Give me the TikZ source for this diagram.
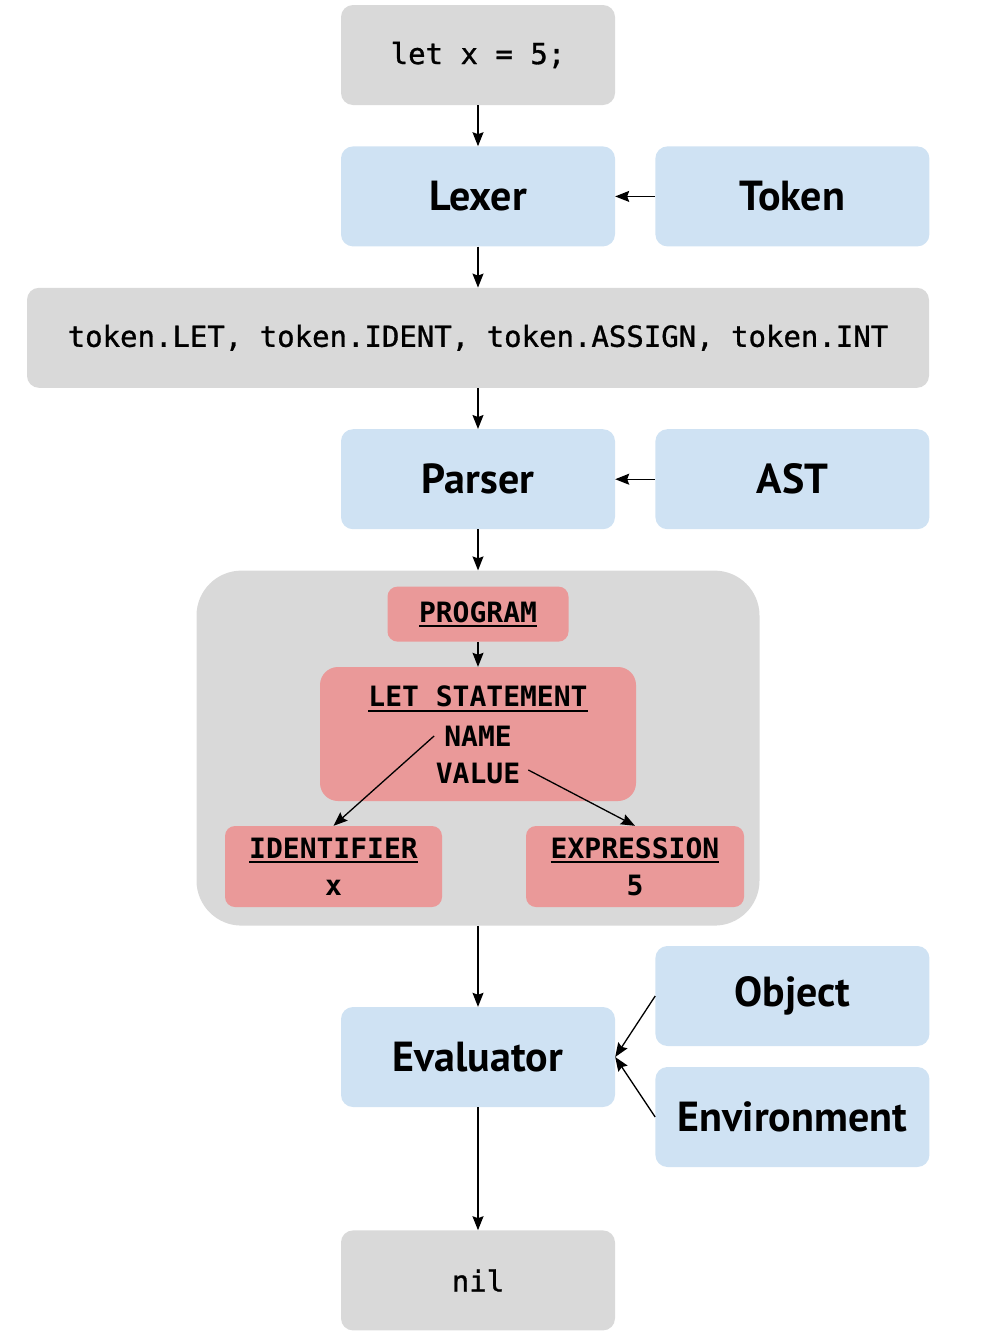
\documentclass[tikz,border=0pt]{standalone}
\usepackage{fontspec}
\setsansfont{PT Sans}
\setmonofont{DejaVu Sans Mono}
\newfontfamily\codefont{DejaVu Sans Mono}[FakeBold=1]
\usepackage{xcolor}
\usetikzlibrary{arrows.meta, positioning, calc}
\definecolor{boxgray}{HTML}{D9D9D9}
\definecolor{boxblue}{HTML}{CFE2F3}
\definecolor{boxred}{HTML}{EA9999}
\newcommand\uword[1]{\leavevmode\setbox0\hbox{#1}\rlap{\rule[-5pt]{\wd0}{2.2pt}}\box0}
\tikzset{
  code/.style    = {rectangle, rounded corners=12pt, fill=boxgray,
                    minimum width=274pt, minimum height=100pt,
                    font=\fontsize{29}{32}\selectfont\codefont},
  stage/.style   = {rectangle, rounded corners=12pt, fill=boxblue,
                    minimum width=274pt, minimum height=100pt,
                    font=\fontsize{42}{48}\selectfont\sffamily\bfseries},
  astbox/.style  = {rectangle, rounded corners=45pt, fill=boxgray,
                    minimum width=563pt, minimum height=355pt},
  astnode/.style = {rectangle, rounded corners=10pt, fill=boxred,
                    align=center,
                    font=\fontsize{28}{37}\selectfont\ttfamily\bfseries},
  field/.style   = {inner sep=2pt,
                    font=\fontsize{28}{30}\selectfont\ttfamily\bfseries},
  flow/.style    = {-{Stealth[length=14pt, width=11pt, inset=2pt]},
                    line width=1.3pt},
}
\begin{document}
\begin{tikzpicture}[x=1pt, y=1pt, node distance=41pt]
  \useasboundingbox (0,0) rectangle (984,-1342);

  \node[code] (src) at (478,-55) {let x = 5;};
  \node[stage, below=of src] (lexer) {Lexer};
  \node[stage, right=40pt of lexer] (token) {Token};
  \node[code, minimum width=902pt, below=of lexer] (toks)
    {token.LET, token.IDENT, token.ASSIGN, token.INT};
  \node[stage, below=of toks] (parser) {Parser};
  \node[stage, right=40pt of parser] (ast) {AST};

  % the tree that the parser builds
  \node[astbox, below=of parser] (tree) {};
  \node[astnode, minimum width=181pt, minimum height=55pt,
        below=16pt of tree.north] (prog) {\uword{PROGRAM}};
  \node[astnode, minimum width=316pt, minimum height=134pt,
        rounded corners=18pt, below=25pt of prog] (let) {};
  \node[field] (lethead) at (478,-699) {\uword{LET STATEMENT}};
  \node[field] (name) at (478,-736) {NAME};
  \node[field] (value) at (478,-773) {VALUE};
  \node[astnode, minimum width=217pt, minimum height=81pt]
    (ident) at (333.5,-866.5) {\uword{IDENTIFIER}\\x};
  \node[astnode, minimum width=218pt, minimum height=81pt]
    (expr) at (635,-866.5) {\uword{EXPRESSION}\\5};

  \node[stage, below=81pt of tree] (eval) {Evaluator};
  \node[stage, right=40pt of eval, yshift=61pt] (obj) {Object};
  \node[stage, right=40pt of eval, yshift=-60pt] (env) {Environment};
  \node[code, below=123pt of eval] (nil) {nil};

  \draw[flow] (src) -- (lexer);
  \draw[flow] (token) -- (lexer);
  \draw[flow] (lexer) -- (toks);
  \draw[flow] (toks) -- (parser);
  \draw[flow] (ast) -- (parser);
  \draw[flow] (parser) -- (tree);
  \draw[flow] (prog) -- (let);
  \draw[flow] ([xshift=-8pt]name.west) -- (ident.north);
  \draw[flow] ([xshift=6pt, yshift=3pt]value.east) -- (expr.north);
  \draw[flow] (tree) -- (eval);
  \draw[flow] (obj.west) -- (eval.east);
  \draw[flow] (env.west) -- (eval.east);
  \draw[flow] (eval) -- (nil);
\end{tikzpicture}
\end{document}
